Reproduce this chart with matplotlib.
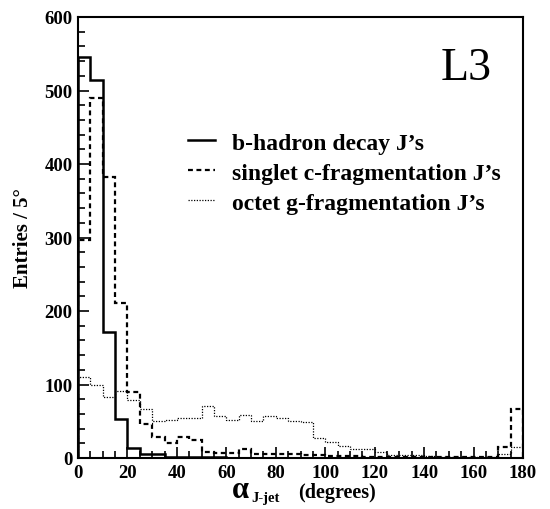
import matplotlib
matplotlib.use("Agg")
import matplotlib.pyplot as plt
import numpy as np
from matplotlib.ticker import MultipleLocator

plt.rcParams["font.family"] = ["Liberation Serif", "DejaVu Serif"]
plt.rcParams["font.weight"] = "bold"

# bin edges: 5 degree bins, 0..180
edges = np.arange(0, 185, 5)

# b-hadron decay J's (solid)
b_hadron = [546, 514, 171, 53, 14, 5, 5, 2, 1, 1, 1, 1, 0, 0, 0, 0, 0, 0,
            0, 0, 0, 0, 0, 0, 0, 0, 0, 0, 0, 0, 0, 0, 0, 0, 0, 0]
# singlet c-fragmentation J's (dashed)
singlet_c = [296, 490, 382, 211, 90, 46, 29, 20, 28, 24, 8, 7, 7, 12, 5, 6, 6, 5,
             4, 4, 3, 3, 3, 2, 2, 2, 2, 2, 2, 2, 1, 1, 2, 2, 15, 66]
# octet g-fragmentation J's (dotted)
octet_g = [110, 100, 83, 91, 79, 66, 51, 52, 55, 54, 71, 57, 52, 59, 51, 57, 54, 51,
           49, 27, 22, 17, 12, 12, 8, 4, 4, 4, 3, 1, 2, 2, 2, 2, 6, 15]

legend_labels = ["b-hadron decay J\u2019s", "singlet c-fragmentation J\u2019s",
                 "octet g-fragmentation J\u2019s"]

W, H = 550, 510
fig = plt.figure(figsize=(W / 100, H / 100), dpi=100)
ax = fig.add_axes([78 / W, 1 - 459 / H, 445 / W, 441 / H])

ax.stairs(b_hadron, edges, color="black", lw=1.8, ls="-", label=legend_labels[0])
ax.stairs(singlet_c, edges, color="black", lw=1.6, ls=(0, (2.2, 1.6)),
          label=legend_labels[1])
ax.stairs(octet_g, edges, color="black", lw=0.9, ls=(0, (1, 1.2)),
          label=legend_labels[2])

ax.set_xlim(0, 180)
ax.set_ylim(0, 600)
ax.xaxis.set_major_locator(MultipleLocator(20))
ax.xaxis.set_minor_locator(MultipleLocator(5))
ax.yaxis.set_major_locator(MultipleLocator(100))
ax.yaxis.set_minor_locator(MultipleLocator(20))
ax.tick_params(which="both", direction="in", top=False, right=False,
               labelsize=13.5, width=1.2)
ax.tick_params(which="major", length=8, pad=4)
ax.tick_params(which="minor", length=5)
for s in ax.spines.values():
    s.set_linewidth(1.5)

ax.set_ylabel("Entries / 5\u00b0", fontsize=15, fontweight="bold", labelpad=8)

# x label pieces: big alpha, small subscript, then "(degrees)"
fig.text(232 / W, 1 - 498 / H, "\u03b1", fontsize=22, fontweight="bold",
         ha="left", va="baseline")
fig.text(251 / W, 1 - 502 / H, "J-jet", fontsize=10.5, fontweight="bold",
         ha="left", va="baseline")
fig.text(298 / W, 1 - 498 / H, "(degrees)", fontsize=14.5, fontweight="bold",
         ha="left", va="baseline")

ax.text(0.93, 0.859, "L3", transform=ax.transAxes, fontsize=33,
        fontweight="normal", ha="right", va="baseline")

leg = ax.legend(loc="upper left", bbox_to_anchor=(0.247, 0.739), frameon=False,
                fontsize=17, handlelength=1.15, handletextpad=0.7,
                labelspacing=0.36, borderpad=0, borderaxespad=0)

fig.savefig("out.png", dpi=100)
